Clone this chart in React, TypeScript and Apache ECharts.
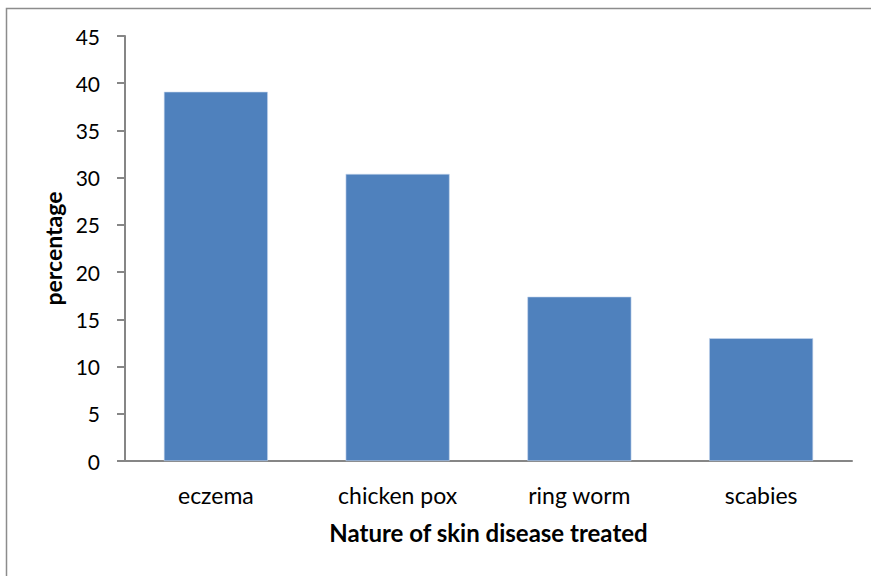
import React, { useEffect, useRef } from "react";
import * as echarts from "echarts";

const categories = ["eczema", "chicken pox", "ring worm", "scabies"];
const percentages = [39.1, 30.4, 17.4, 13.0];
const yTicks = { min: 0, max: 45, interval: 5 };

const FONT = "Lato, 'Open Sans', sans-serif";

export default function App() {
  const ref = useRef<HTMLDivElement>(null);

  useEffect(() => {
    document.body.style.margin = "0";
    const chart = echarts.init(ref.current!, null, { renderer: "svg" });
    chart.setOption({
      animation: false,
      backgroundColor: "#ffffff",
      graphic: [
        {
          type: "rect",
          shape: { x: 6.5, y: 8.5, width: 900, height: 600 },
          style: { fill: "none", stroke: "#8c8c8c", lineWidth: 1.5 },
          silent: true,
        },
      ],
      grid: { left: 125, right: 19, top: 36, bottom: 115 },
      xAxis: {
        type: "category",
        data: categories,
        name: "Nature of skin disease treated",
        nameLocation: "middle",
        nameGap: 59,
        nameTextStyle: { fontFamily: FONT, fontWeight: "bold", fontSize: 24, color: "#000" },
        axisLine: { lineStyle: { color: "#868686", width: 2 } },
        axisTick: { show: false },
        axisLabel: { fontFamily: FONT, fontSize: 23, color: "#000", margin: 22 },
      },
      yAxis: {
        type: "value",
        min: yTicks.min,
        max: yTicks.max,
        interval: yTicks.interval,
        name: "percentage",
        nameLocation: "middle",
        nameGap: 59,
        nameTextStyle: { fontFamily: FONT, fontWeight: "bold", fontSize: 23, color: "#000" },
        axisLine: { show: true, lineStyle: { color: "#868686", width: 2 } },
        axisTick: { show: true, length: 8, lineStyle: { color: "#868686", width: 2 } },
        axisLabel: { fontFamily: FONT, fontSize: 21, color: "#000", margin: 25 },
        splitLine: { show: false },
      },
      series: [
        {
          type: "bar",
          data: percentages,
          barWidth: 104,
          itemStyle: { color: "#4F81BD", borderColor: "#c9d9ee", borderWidth: 0.6 },
        },
      ],
    });
    return () => chart.dispose();
  }, []);

  return <div ref={ref} style={{ width: 871, height: 576 }} />;
}
